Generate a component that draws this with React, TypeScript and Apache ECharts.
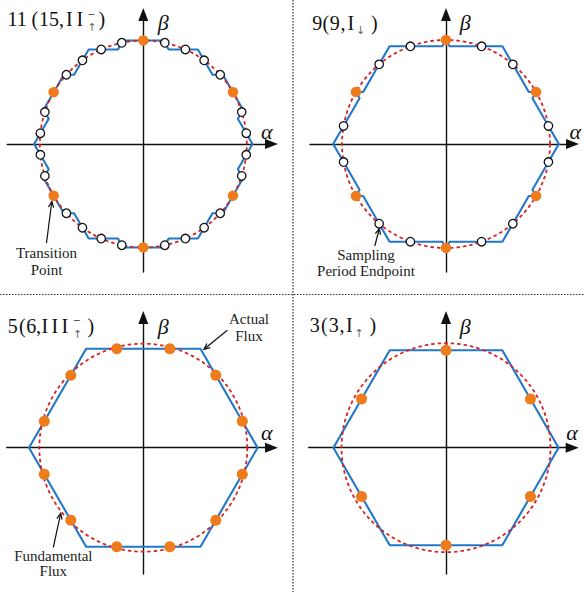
import React, { useEffect, useRef } from "react";
import * as echarts from "echarts";

// ---------------- data ----------------
const panelNames = ["11(15,II↑−)", "9(9,I↓)", "5(6,III↑−)", "3(3,I↑)"];
const samplesPerRev = [30, 18, 12, 6];
const firstSampleDeg = [90, 90, 105, 90];
const sampleRadius = [103.5, 104, 102.5, 97.5];
const fundamentalRadius = [103.5, 104, 104, 104.5];
const transitionEvery = [5, 3, 1, 1];
// order of the two active vectors inside each period, repeated per 60° sector
const sectorOrder = ["ABABA", "BAB", "A", "A"];

// ---------------- layout ----------------
const W = 584;
const H = 592;
const centers = [
  [143.3, 144],
  [446, 144],
  [143.3, 447.7],
  [446, 447.7],
];
const xExt = [
  [-136, 128.2],
  [-136, 126.5],
  [-136.6, 128.2],
  [-137.3, 126.2],
];
const yExt = [
  [-128, 129.5],
  [-128, 129.5],
  [-126.3, 130.2],
  [-126.3, 130.2],
];

const BLUE = "#2277c9";
const RED = "#d42424";
const ORANGE = "#ee7b1c";
const INK = "#111";
const SERIF = "Liberation Serif";

type Tok = { t: string; x: number; k?: "sup" | "sub" };
const titleLayout: { base: number; toks: Tok[] }[] = [
  {
    base: 26,
    toks: [
      { t: "11", x: 7.5 },
      { t: "(", x: 31.5 },
      { t: "15", x: 39 },
      { t: ",", x: 59 },
      { t: "I", x: 66 },
      { t: "I", x: 76.5 },
      { t: "−", x: 87.5, k: "sup" },
      { t: "↑", x: 87.5, k: "sub" },
      { t: ")", x: 98.5 },
    ],
  },
  {
    base: 29.3,
    toks: [
      { t: "9", x: 312.2 },
      { t: "(", x: 322.5 },
      { t: "9", x: 329.8 },
      { t: ",", x: 340.5 },
      { t: "I", x: 347.5 },
      { t: "↓", x: 356, k: "sub" },
      { t: ")", x: 371 },
    ],
  },
  {
    base: 332.7,
    toks: [
      { t: "5", x: 7.8 },
      { t: "(", x: 19 },
      { t: "6", x: 26.2 },
      { t: ",", x: 36 },
      { t: "I", x: 41.5 },
      { t: "I", x: 51.5 },
      { t: "I", x: 61.5 },
      { t: "−", x: 73, k: "sup" },
      { t: "↑", x: 73, k: "sub" },
      { t: ")", x: 87.5 },
    ],
  },
  {
    base: 331.5,
    toks: [
      { t: "3", x: 309.8 },
      { t: "(", x: 321 },
      { t: "3", x: 328.8 },
      { t: ",", x: 339.5 },
      { t: "I", x: 346 },
      { t: "↑", x: 354.5, k: "sub" },
      { t: ")", x: 369.5 },
    ],
  },
];

const betaPos = [
  [163.3, 22],
  [465.3, 22],
  [163.3, 326],
  [465.3, 326],
];
const alphaPos = [
  [266.7, 131],
  [575.3, 131],
  [266.7, 432],
  [572, 432],
];

const notes = [
  { lines: ["Transition", "Point"], cx: 46.5, base: [258, 275], tail: [46.5, 243], tip: [51.8, 201.5] },
  { lines: ["Sampling", "Period Endpoint"], cx: 366, base: [259.5, 275.5], tail: [374.8, 246], tip: [379.4, 228.5] },
  { lines: ["Actual", "Flux"], cx: 249, base: [323.5, 340.5], tail: [227.3, 330.3], tip: [204, 349.3] },
  { lines: ["Fundamental", "Flux"], cx: 53.3, base: [561, 576], tail: [53.3, 547.5], tip: [60.7, 513.3] },
];

// ---------------- geometry helpers ----------------
const rad = (d: number) => (d * Math.PI) / 180;

function samplePoint(i: number, k: number): [number, number] {
  const th = rad(firstSampleDeg[i] - (k * 360) / samplesPerRev[i]);
  return [sampleRadius[i] * Math.cos(th), sampleRadius[i] * Math.sin(th)];
}

function fluxPath(i: number): [number, number][] {
  const N = samplesPerRev[i];
  const order = sectorOrder[i];
  let cur = samplePoint(i, 0);
  const pts: [number, number][] = [cur];
  for (let k = 0; k < N; k++) {
    const nxt = samplePoint(i, k + 1);
    const dx = nxt[0] - cur[0];
    const dy = nxt[1] - cur[1];
    const phi = (Math.atan2(dy, dx) * 180) / Math.PI;
    const A = 60 * Math.ceil(phi / 60 - 1e-9);
    const B = A - 60;
    const ua = [Math.cos(rad(A)), Math.sin(rad(A))];
    const ub = [Math.cos(rad(B)), Math.sin(rad(B))];
    const det = ua[0] * ub[1] - ua[1] * ub[0];
    const a = (dx * ub[1] - dy * ub[0]) / det;
    const b = (ua[0] * dy - ua[1] * dx) / det;
    const first = order[k % order.length];
    const mid: [number, number] =
      first === "A" ? [cur[0] + a * ua[0], cur[1] + a * ua[1]] : [cur[0] + b * ub[0], cur[1] + b * ub[1]];
    pts.push(mid, nxt);
    cur = nxt;
  }
  return pts;
}

function circlePts(r: number): [number, number][] {
  const out: [number, number][] = [];
  for (let d = 0; d <= 360; d += 2) out.push([r * Math.cos(rad(d)), r * Math.sin(rad(d))]);
  return out;
}

function arrowEls(tail: number[], tip: number[]) {
  const ang = Math.atan2(tail[1] - tip[1], tail[0] - tip[0]);
  const L = 6.5;
  const sp = rad(24);
  const p1 = [tip[0] + L * Math.cos(ang + sp), tip[1] + L * Math.sin(ang + sp)];
  const p2 = [tip[0] + L * Math.cos(ang - sp), tip[1] + L * Math.sin(ang - sp)];
  return [
    {
      type: "line",
      silent: true,
      shape: { x1: tail[0], y1: tail[1], x2: tip[0], y2: tip[1] },
      style: { stroke: INK, lineWidth: 1.2 },
    },
    {
      type: "polyline",
      silent: true,
      shape: { points: [p1, tip, p2] },
      style: { stroke: INK, lineWidth: 1.2, fill: null },
    },
  ];
}

function textEl(text: string, x: number, y: number, size: number, opts: any = {}) {
  return {
    type: "text",
    silent: true,
    x,
    y,
    style: {
      text,
      fontFamily: opts.family || SERIF,
      fontSize: size,
      fontStyle: opts.italic ? "italic" : "normal",
      fill: opts.fill || INK,
      align: opts.align || "left",
      textAlign: opts.align || "left",
      verticalAlign: "middle",
      textVerticalAlign: "middle",
    },
  };
}

function buildOption() {
  const grid: any[] = [];
  const xAxis: any[] = [];
  const yAxis: any[] = [];
  const series: any[] = [];
  for (let i = 0; i < 4; i++) {
    const [cx, cy] = centers[i];
    const [x0, x1] = xExt[i];
    const [y0, y1] = yExt[i];
    grid.push({ left: cx + x0, top: cy - y1, width: x1 - x0, height: y1 - y0, containLabel: false });
    const axisCommon = {
      type: "value",
      gridIndex: i,
      axisTick: { show: false },
      axisLabel: { show: false },
      splitLine: { show: false },
      axisLine: {
        show: true,
        onZero: true,
        symbol: ["none", "triangle"],
        symbolSize: [10, 13],
        lineStyle: { color: INK, width: 1.4 },
      },
    };
    xAxis.push({ ...axisCommon, min: x0, max: x1 });
    yAxis.push({ ...axisCommon, min: y0, max: y1 });

    series.push({
      name: panelNames[i] + " actual flux",
      type: "line",
      xAxisIndex: i,
      yAxisIndex: i,
      data: fluxPath(i),
      showSymbol: false,
      silent: true,
      clip: false,
      lineStyle: { color: BLUE, width: 2.1 },
      z: 3,
    });
    series.push({
      name: panelNames[i] + " fundamental flux",
      type: "line",
      xAxisIndex: i,
      yAxisIndex: i,
      data: circlePts(fundamentalRadius[i]),
      showSymbol: false,
      silent: true,
      clip: false,
      lineStyle: { color: RED, width: 1.8, type: [3.5, 3] },
      z: 4,
    });
    const open: [number, number][] = [];
    const trans: [number, number][] = [];
    for (let k = 0; k < samplesPerRev[i]; k++) {
      const p = samplePoint(i, k);
      if (k % transitionEvery[i] === 0) trans.push(p);
      else open.push(p);
    }
    if (open.length)
      series.push({
        name: panelNames[i] + " sampling endpoints",
        type: "scatter",
        xAxisIndex: i,
        yAxisIndex: i,
        data: open,
        symbolSize: 8.5,
        silent: true,
        itemStyle: { color: "#fff", borderColor: INK, borderWidth: 1.3, opacity: 1 },
        z: 5,
      });
    series.push({
      name: panelNames[i] + " transition points",
      type: "scatter",
      xAxisIndex: i,
      yAxisIndex: i,
      data: trans,
      symbolSize: i >= 2 ? 11 : 10.5,
      silent: true,
      itemStyle: { color: ORANGE, opacity: 1 },
      z: 6,
    });
  }

  const graphic: any[] = [];
  graphic.push({
    type: "line",
    silent: true,
    shape: { x1: 0, y1: 294.5, x2: W, y2: 294.5 },
    style: { stroke: "#333", lineWidth: 1.2, lineDash: [1.5, 1.5] },
  });
  graphic.push({
    type: "line",
    silent: true,
    shape: { x1: 293, y1: 0, x2: 293, y2: H },
    style: { stroke: "#333", lineWidth: 1.2, lineDash: [1.5, 1.5] },
  });

  titleLayout.forEach((tl) => {
    tl.toks.forEach((tk) => {
      if (tk.k === "sup") graphic.push(textEl(tk.t, tk.x, tl.base - 12, 13));
      else if (tk.k === "sub")
        graphic.push(textEl(tk.t, tk.x, tl.base + 1.5, 11, { fill: "#666", family: "DejaVu Sans" }));
      else graphic.push(textEl(tk.t, tk.x, tl.base - 6.75, 20));
    });
  });

  for (let i = 0; i < 4; i++) {
    graphic.push(textEl("β", betaPos[i][0], betaPos[i][1], 22, { italic: true, align: "center" }));
    graphic.push(textEl("α", alphaPos[i][0], alphaPos[i][1], 22, { italic: true, align: "center" }));
  }

  notes.forEach((n) => {
    n.lines.forEach((ln, j) => {
      graphic.push(textEl(ln, n.cx, n.base[j] - 5, 15, { align: "center", fill: "#222" }));
    });
    graphic.push(...arrowEls(n.tail, n.tip));
  });

  return {
    animation: false,
    backgroundColor: "#ffffff",
    grid,
    xAxis,
    yAxis,
    series,
    graphic: { elements: graphic },
  };
}

export default function App() {
  const ref = useRef<HTMLDivElement>(null);
  useEffect(() => {
    if (!ref.current) return;
    const chart = echarts.init(ref.current, null, { renderer: "svg", width: W, height: H });
    chart.setOption(buildOption() as any);
    return () => chart.dispose();
  }, []);
  return (
    <div
      ref={ref}
      style={{ position: "fixed", left: 0, top: 0, width: W, height: H, background: "#fff" }}
    />
  );
}
